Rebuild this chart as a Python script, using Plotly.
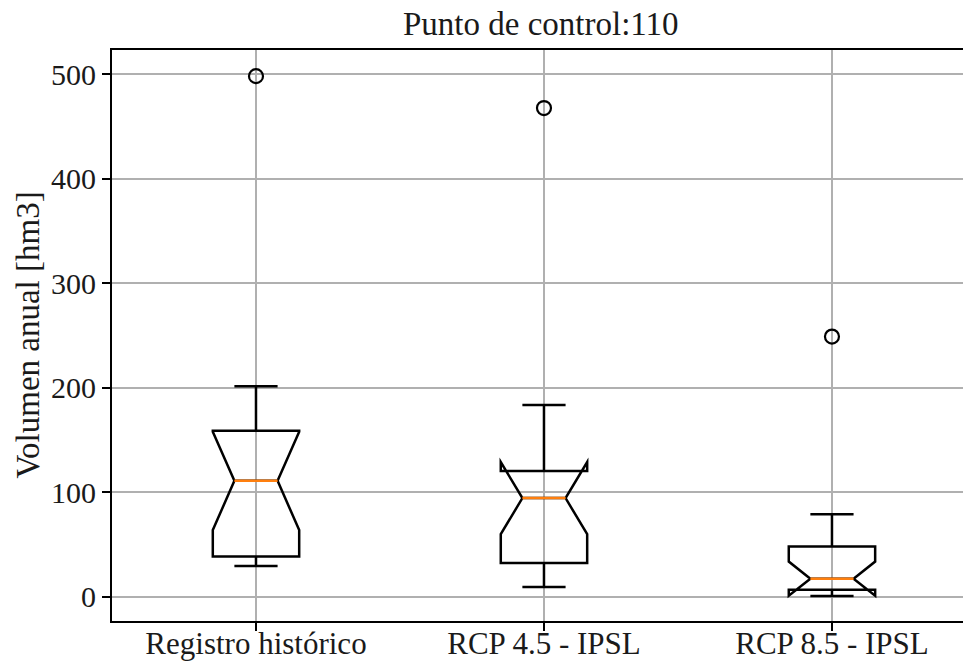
import plotly.graph_objects as go

# ---- data ----
categories = ["Registro histórico", "RCP 4.5 - IPSL", "RCP 8.5 - IPSL"]
positions = [1, 2, 3]
q1 = [38.7, 32.5, 7.0]
median = [111.0, 94.5, 17.5]
q3 = [159.0, 120.5, 48.3]
lowerfence = [29.5, 9.5, 0.8]
upperfence = [201.5, 183.5, 79.0]
notchspan = [47.0, 34.5, 16.3]
outliers = [498.0, 467.5, 249.0]
yticks = [0, 100, 200, 300, 400, 500]

BOX_W = 0.3
NOTCH_W = 0.25  # plotly: waist half-width = half box width * (1 - 2*notchwidth)
FONT = "Liberation Serif"
TXT = "#1a1a1a"

fig = go.Figure()

fig.add_trace(go.Box(
    x=positions, q1=q1, median=median, q3=q3,
    lowerfence=lowerfence, upperfence=upperfence, notchspan=notchspan,
    notched=True, notchwidth=NOTCH_W, width=BOX_W, whiskerwidth=0.5,
    boxpoints=False, fillcolor="rgba(0,0,0,0)",
    line=dict(color="black", width=2.5), showlegend=False, hoverinfo="skip",
))

# orange median lines (matplotlib style), spanning the notch waist
mx, my = [], []
for p, m in zip(positions, median):
    half = BOX_W / 2 * (1 - 2 * NOTCH_W)
    mx += [p - half, p + half, None]
    my += [m, m, None]
fig.add_trace(go.Scatter(x=mx, y=my, mode="lines",
                         line=dict(color="#ff7f0e", width=2.5),
                         showlegend=False, hoverinfo="skip"))

# outliers
fig.add_trace(go.Scatter(x=positions, y=outliers, mode="markers",
                         marker=dict(symbol="circle", size=14, color="rgba(0,0,0,0)",
                                     line=dict(color="black", width=2.2)),
                         showlegend=False, hoverinfo="skip"))

axis_common = dict(
    showgrid=True, gridcolor="#b0b0b0", gridwidth=1.5,
    ticks="outside", ticklen=8, tickwidth=2, tickcolor="black",
    showline=True, linewidth=2, linecolor="black", zeroline=False,
    automargin=False,
)

fig.update_layout(
    width=963, height=664,
    margin=dict(l=112, r=0, t=50, b=43),
    paper_bgcolor="white", plot_bgcolor="white",
    font=dict(family=FONT, size=30, color=TXT),
    xaxis=dict(range=[0.5, 3.455], tickvals=positions, ticktext=categories,
               mirror=True, tickfont=dict(family=FONT, size=31, color=TXT),
               ticklabelstandoff=-14, **axis_common),
    yaxis=dict(range=[-23, 523], tickvals=yticks, mirror=False,
               tickfont=dict(family=FONT, size=30, color=TXT), **axis_common),
    annotations=[
        dict(text="Punto de control:110", xref="paper", yref="paper",
             x=(541 - 112) / 851, y=1 + 26 / 571, xanchor="center", yanchor="middle",
             showarrow=False, font=dict(family=FONT, size=33, color=TXT)),
        dict(text="Volumen anual [hm3]", xref="paper", yref="paper",
             x=(27 - 112) / 851, y=0.5, xanchor="center", yanchor="middle",
             textangle=-90, showarrow=False,
             font=dict(family=FONT, size=33, color=TXT)),
    ],
)

fig.write_html("out.html")
